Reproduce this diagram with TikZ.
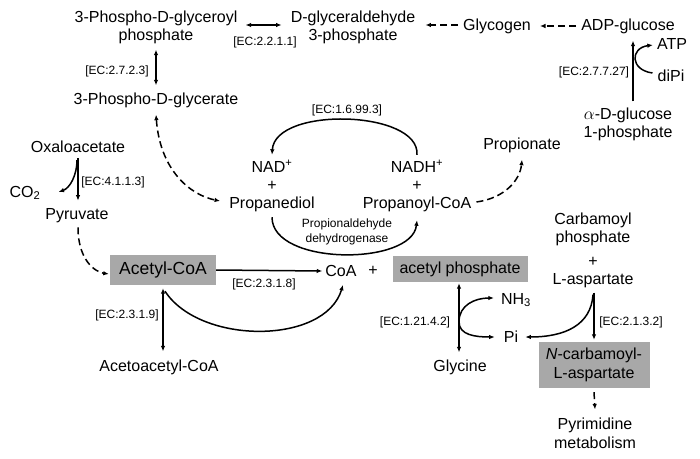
\documentclass[tikz,border=0pt]{standalone}
\usepackage{fontspec}
\setmainfont{Liberation Sans}
\usetikzlibrary{arrows.meta,calc}
\definecolor{boxgray}{HTML}{A8A8A8}
\begin{document}
\begin{tikzpicture}[x=1pt,y=-1pt,
  t/.style={font=\fontsize{16}{18}\selectfont, inner sep=1pt, align=center},
  ec/.style={font=\fontsize{12}{15}\selectfont, inner sep=1pt, align=center},
  gbox/.style={fill=boxgray, inner sep=0pt, align=center},
  ar/.style={line width=1.5pt, -{Latex[length=5.5pt,width=4.5pt]}},
  both/.style={line width=1.5pt, {Latex[length=5.5pt,width=4.5pt]}-{Latex[length=5.5pt,width=4.5pt]}},
  dar/.style={ar, dash pattern=on 7pt off 4pt},
  dboth/.style={both, dash pattern=on 7pt off 4pt}]
\useasboundingbox (0,0) rectangle (700,458);

% nodes
\node[t] (pgp) at (156,27) {3-Phospho-D-glyceroyl\\phosphate};
\node[t] (gap) at (353,27) {D-glyceraldehyde\\3-phosphate};
\node[t] (glyc) at (497,26) {Glycogen};
\node[t] (adp) at (628,26) {ADP-glucose};
\node[t] (pg) at (156,100) {3-Phospho-D-glycerate};
\node[t] (atp) at (672,44) {ATP};
\node[t] (dipi) at (671,76) {diPi};
\node[t] (g1p) at (628,124) {$\alpha$-D-glucose\\1-phosphate};
\node[t] (oxa) at (78,147) {Oxaloacetate};
\node[t] (co2) at (25,193) {CO\textsubscript{2}};
\node[t] (pyr) at (77,216) {Pyruvate};
\node[t] (nad) at (272,186) {NAD\textsuperscript{+}\\+\\Propanediol};
\node[t] (nadh) at (417,186) {NADH\textsuperscript{+}\\+\\Propanoyl-CoA};
\node[t] (prop) at (522,145) {Propionate};
\node[gbox, minimum width=106pt, minimum height=30pt, font=\fontsize{17.5}{20}\selectfont] (acoa) at (163,270) {Acetyl-CoA};
\node[t] (coa) at (341,271) {CoA};
\node[t] (plus) at (373,271) {+};
\node[gbox, minimum width=135pt, minimum height=26pt, font=\fontsize{16}{18}\selectfont] (ap) at (460,269) {acetyl phosphate};
\node[t] (carb) at (593,250) {Carbamoyl\\phosphate\\[6pt]+\\L-aspartate};
\node[t] (aacoa) at (159,367) {Acetoacetyl-CoA};
\node[t] (gly) at (460,367) {Glycine};
\node[t] (nh3) at (516,300) {NH\textsubscript{3}};
\node[t] (pi) at (511,337) {Pi};
\node[gbox, minimum width=111pt, minimum height=46pt, font=\fontsize{16}{19}\selectfont] (ncarb) at (594,365) {\textit{N}-carbamoyl-\\L-aspartate};
\node[t, font=\fontsize{16}{19}\selectfont] (pyrim) at (595,433) {Pyrimidine\\metabolism};

% enzyme labels
\node[ec] (ec1) at (265,42) {[EC:2.2.1.1]};
\node[ec] (ec2) at (117,71) {[EC:2.7.2.3]};
\node[ec] (ec3) at (594,72) {[EC:2.7.7.27]};
\node[ec] (ec4) at (347,110) {[EC:1.6.99.3]};
\node[ec] (ec5) at (113,182) {[EC:4.1.1.3]};
\node[ec] (pdh) at (347,232) {Propionaldehyde\\dehydrogenase};
\node[ec] (ec6) at (264,284) {[EC:2.3.1.8]};
\node[ec] (ec7) at (127,315) {[EC:2.3.1.9]};
\node[ec] (ec8) at (415,322) {[EC:1.21.4.2]};
\node[ec] (ec9) at (631,322) {[EC:2.1.3.2]};

% connectors
\draw[both] ($(pgp.east)+(7,-2)$) -- ($(gap.west)+(-8,-2)$);
\draw[dar] ($(glyc.west)+(-4,-1)$) -- ($(gap.east)+(9,-2)$);
\draw[dar] ($(adp.west)+(-4,0)$) -- ($(glyc.east)+(8,0)$);
\draw[ar] ($(g1p.north)+(5,-5)$) -- ($(adp.south)+(5,6)$);
\draw[ar] ($(dipi.west)+(-4,-3)$) .. controls (630,70) and (630,48) .. ($(atp.west)+(-3,1)$);
\draw[both] ($(pgp.south)+(0,5)$) -- ($(pg.north)+(0,-6)$);
\draw[dboth] ($(pg.south)+(0,6)$) .. controls (160,170) and (190,195) .. ($(nad.west)+(-8,15)$);
\draw[ar] ($(nadh.north)+(0,-4)$) .. controls (420,110) and (275,106) .. ($(nad.north)+(0,-4)$);
\draw[ar] ($(nad.south)+(0,4)$) .. controls (272,266) and (412,266) .. ($(nadh.south)+(0,7)$);
\draw[dar] ($(nadh.east)+(4,16)$) .. controls (505,198) and (520,180) .. ($(prop.south)+(0,6)$);
\draw[ar] ($(oxa.south)+(0,4)$) -- ($(pyr.north)+(1,-7)$);
\draw[ar] ($(oxa.south)+(-1,6)$) .. controls (77,175) and (70,188) .. ($(co2.east)+(17,-1)$);
\draw[dar] ($(pyr.south)+(1,3)$) .. controls (78,260) and (95,272) .. ($(acoa.west)+(-1,4)$);
\draw[ar] (acoa.east) -- ($(coa.west)+(-2,0)$);
\draw[both] ($(acoa.south)+(0,3)$) -- ($(acoa.south|-aacoa.north)+(0,-7)$);
\draw[ar] ($(acoa.south)+(2,6)$) .. controls (200,345) and (325,345) .. ($(coa.south)+(2,7)$);
\draw[both] ($(ap.south)+(-1,1)$) -- ($(gly.north)+(-1,-6)$);
\coordinate (m1) at ($(ap.south)!0.52!(gly.north)+(-1,0)$);
\draw[ar] (m1) .. controls (459,305) and (475,298) .. ($(nh3.west)+(-6,-2)$);
\draw[ar] (m1) .. controls (459,335) and (475,337) .. ($(pi.west)+(-8,0)$);
\draw[ar] ($(carb.south)+(1,4)$) -- ($(ncarb.north)+(0,-2)$);
\draw[ar] ($(carb.south)+(0,6)$) .. controls (591,325) and (565,337) .. ($(pi.east)+(6,0)$);
\draw[dar] ($(ncarb.south)+(0,4)$) -- ($(pyrim.north)+(0,-7)$);
\end{tikzpicture}
\end{document}
